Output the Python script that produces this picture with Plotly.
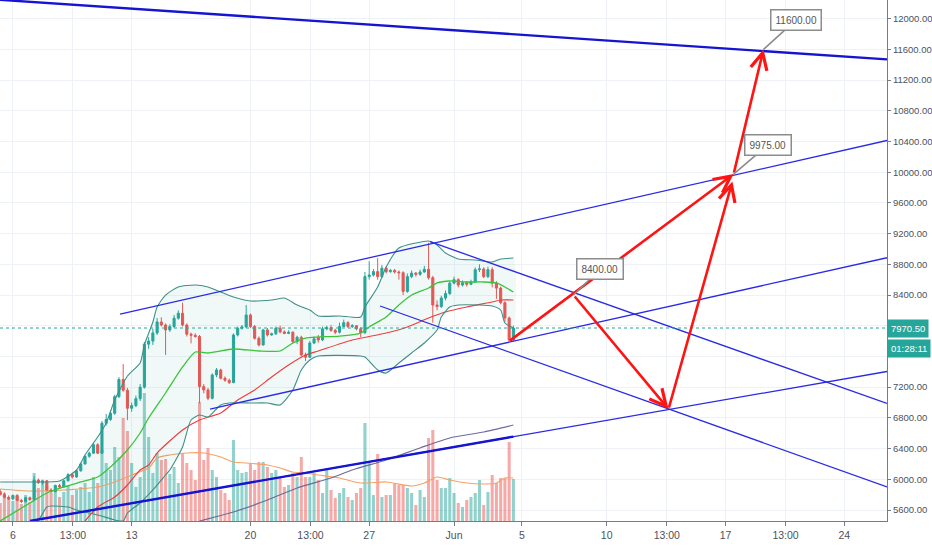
import pandas as pd
import plotly.graph_objects as go

# ---------------- data ----------------
times = pd.date_range("2019-05-05 06:00", periods=122, freq="6h")

opens = [5840, 5800, 5765, 5745, 5790, 5725, 5710, 5760, 5735, 5990,
         5955, 5980, 5860, 5840, 5920, 5900, 5980, 6060, 6030, 6110,
         6200, 6300, 6340, 6450, 6340, 6730, 6780, 6860, 7076, 7300,
         7160, 6925, 6960, 7050, 7200, 7760, 7800, 7906, 8050, 8010,
         7945, 7990, 8098, 8163, 8010, 7890, 7875, 7860, 7207, 7164,
         7055, 7359, 7424, 7316, 7290, 7260, 7880, 7967, 7985, 8140,
         7990, 7837, 7750, 7945, 7880, 7895, 7967, 7920, 7900, 7915,
         7793, 7850, 7620, 7590, 7775, 7850, 7815, 7960, 7975, 7940,
         7915, 7990, 8040, 7990, 8000, 7960, 7910, 8640, 8660, 8705,
         8640, 8750, 8705, 8720, 8700, 8690, 8447, 8640, 8685, 8670,
         8700, 8735, 8625, 8270, 8250, 8360, 8420, 8555, 8600, 8530,
         8560, 8540, 8570, 8730, 8740, 8640, 8730, 8555, 8490, 8300,
         8100, 7815]
highs = [5870, 5830, 5790, 5800, 5805, 5745, 5770, 5775, 6040, 6010,
         5995, 5990, 5885, 5930, 5940, 5990, 6080, 6075, 6125, 6215,
         6310, 6360, 6480, 6470, 6760, 6850, 6900, 7100, 7330, 7500,
         7190, 7000, 7090, 7240, 7790, 7850, 7960, 8100, 8110, 8030,
         8020, 8140, 8200, 8300, 8030, 7910, 7900, 7880, 7240, 7190,
         7380, 7450, 7440, 7340, 7310, 7900, 7990, 8010, 8270, 8160,
         8010, 7860, 7960, 7970, 7910, 7990, 8000, 7940, 7940, 7930,
         7870, 7870, 7650, 7800, 7860, 7880, 7990, 8000, 8010, 7960,
         8040, 8080, 8060, 8020, 8010, 7980, 8700, 8840, 8740, 8880,
         8790, 8770, 8740, 8740, 8720, 8710, 8680, 8720, 8700, 8730,
         8780, 9080, 8650, 8330, 8390, 8460, 8580, 8640, 8620, 8590,
         8580, 8600, 8760, 8800, 8760, 8770, 8760, 8580, 8510, 8320,
         8120, 8000]
lows = [5790, 5750, 5730, 5730, 5715, 5690, 5700, 5720, 5730, 5940,
        5930, 5850, 5820, 5830, 5880, 5890, 5970, 6010, 6020, 6100,
        6190, 6280, 6330, 6330, 6330, 6700, 6760, 6840, 7060, 7140,
        6770, 6880, 6940, 7020, 7180, 7700, 7750, 7880, 7990, 7620,
        7920, 7970, 8080, 7990, 7860, 7770, 7845, 6990, 7120, 7030,
        7040, 7330, 7300, 7270, 7240, 7250, 7860, 7950, 7970, 7970,
        7820, 7730, 7740, 7860, 7870, 7880, 7900, 7890, 7890, 7770,
        7760, 7600, 7540, 7580, 7760, 7780, 7800, 7940, 7920, 7890,
        7900, 7980, 7970, 7970, 7940, 7850, 7890, 8600, 8640, 8600,
        8620, 8680, 8690, 8680, 8600, 8400, 8430, 8620, 8640, 8650,
        8690, 8600, 8040, 8200, 8230, 8330, 8400, 8540, 8500, 8510,
        8510, 8530, 8560, 8700, 8620, 8620, 8500, 8350, 8280, 8050,
        7790, 7800]
closes = [5800, 5765, 5745, 5790, 5725, 5710, 5760, 5735, 5990, 5955,
          5980, 5860, 5840, 5920, 5900, 5980, 6060, 6030, 6110, 6200,
          6300, 6340, 6450, 6340, 6730, 6780, 6860, 7076, 7300, 7160,
          6925, 6960, 7050, 7200, 7760, 7800, 7906, 8050, 8010, 7945,
          7990, 8098, 8163, 8010, 7890, 7875, 7860, 7207, 7164, 7055,
          7359, 7424, 7316, 7290, 7260, 7880, 7967, 7985, 8140, 7990,
          7837, 7750, 7945, 7880, 7895, 7967, 7920, 7900, 7915, 7793,
          7850, 7620, 7590, 7775, 7830, 7815, 7960, 7975, 7940, 7915,
          7990, 8040, 7990, 8000, 7960, 7910, 8640, 8660, 8705, 8640,
          8750, 8705, 8720, 8700, 8690, 8447, 8640, 8685, 8670, 8700,
          8735, 8625, 8270, 8250, 8360, 8420, 8555, 8600, 8530, 8560,
          8540, 8570, 8730, 8740, 8640, 8730, 8555, 8490, 8300, 8100,
          7815, 7970.5]
volumes = [1.8, 2.8, 2.2, 2.0, 2.5, 1.7, 2.6, 1.9, 4.8, 3.3,
           4.0, 3.5, 2.8, 3.1, 2.4, 2.9, 3.6, 2.6, 3.1, 3.4,
           3.8, 2.9, 4.4, 3.8, 7.1, 5.8, 5.1, 7.4, 6.4, 10.3,
           9.0, 5.8, 3.4, 4.4, 12.8, 8.4, 4.8, 6.8, 6.1, 6.2,
           4.7, 5.4, 3.8, 6.8, 5.8, 5.1, 4.1, 11.9, 6.1, 7.3,
           5.1, 4.4, 3.1, 2.8, 2.1, 8.1, 5.1, 4.8, 4.9, 5.8,
           5.1, 5.9, 5.9, 5.4, 4.8, 5.1, 4.4, 3.4, 3.6, 4.8,
           4.4, 6.4, 4.4, 4.4, 4.8, 4.1, 2.8, 5.1, 3.1, 2.3,
           2.8, 3.3, 2.4, 2.1, 2.8, 3.3, 9.8, 5.8, 2.6, 6.7,
           2.4, 2.6, 2.6, 3.8, 3.6, 3.6, 3.3, 2.8, 1.6, 3.1,
           2.4, 8.3, 9.1, 4.1, 3.3, 3.3, 4.3, 2.8, 1.8, 1.4,
           2.1, 2.4, 2.8, 4.1, 1.6, 2.9, 4.6, 3.8, 4.3, 4.3,
           7.9, 4.2]

# indicator lines (candle index -> value)
bb_up_idx = [0, 7, 14, 18, 20, 23, 25, 27, 30, 33, 34, 36, 37, 39, 42, 46, 49, 52, 55, 59,
             64, 67, 70, 73, 75, 80, 85, 86, 89, 91, 94, 98, 101, 103, 105, 108, 112, 116, 118, 121]
bb_up = [5965, 5965, 5978, 6121, 6316, 6551, 6733, 7033, 7345, 7515, 7749, 8049, 8244, 8400, 8505,
         8531, 8505, 8439, 8374, 8322, 8335, 8361, 8270, 8205, 8127, 8127, 8114, 8244, 8505, 8765,
         9013, 9078, 9104, 9052, 8947, 8869, 8856, 8830, 8869, 8882]
bb_lo_idx = [0, 5, 9, 11, 12, 16, 18, 23, 27, 29, 30, 33, 36, 39, 40, 43, 45, 47, 49, 52,
             54, 59, 63, 66, 69, 71, 73, 75, 85, 86, 89, 91, 94, 97, 100, 103, 104, 106, 108, 113,
             116, 118, 119, 121]
bb_lo = [5300, 5380, 5470, 5639, 5652, 5639, 5600, 5535, 5470, 5457, 5561, 5691, 5861, 6056, 6121,
         6421, 6772, 6837, 6811, 6968, 6994, 6994, 6994, 6968, 7163, 7424, 7554, 7606, 7606, 7593,
         7424, 7384, 7515, 7645, 7775, 7944, 8114, 8244, 8270, 8270, 8257, 8205, 8036, 7971]
basis_idx = [0, 7, 11, 15, 19, 23, 26, 30, 33, 35, 39, 43, 46, 49, 55, 61, 66, 69, 72, 75,
             80, 85, 87, 91, 94, 97, 101, 103, 106, 110, 114, 117, 119, 121]
basis = [5457, 5691, 5821, 5900, 5965, 6030, 6160, 6382, 6603, 6798, 7124, 7463, 7658, 7645, 7697,
         7671, 7671, 7775, 7840, 7853, 7866, 7905, 7984, 8114, 8270, 8400, 8492, 8557, 8583, 8570,
         8570, 8557, 8505, 8439]
ma_red_idx = [20, 23, 27, 30, 33, 35, 37, 43, 47, 52, 56, 60, 64, 68, 72, 75, 83, 91, 96, 101,
              105, 110, 116, 118, 121]
ma_red = [5457, 5639, 5769, 5926, 6121, 6186, 6342, 6642, 6772, 6863, 7033, 7163, 7332, 7489, 7619,
          7671, 7814, 7905, 7984, 8101, 8179, 8244, 8309, 8335, 8335]
ma_slow_idx = [47, 55, 63, 70, 78, 83, 91, 99, 106, 114, 121]
ma_slow = [5457, 5574, 5730, 5887, 6017, 6121, 6251, 6408, 6538, 6616, 6707]
vol_ma_idx = [0, 7, 15, 23, 27, 31, 35, 37, 40, 44, 48, 52, 55, 58, 63, 66, 69, 72, 75, 80,
              85, 91, 97, 100, 103, 106, 110, 114, 117, 119, 121]
vol_ma = [3.2, 3.0, 3.1, 3.4, 3.9, 4.6, 5.3, 6.3, 6.6, 6.8, 6.8, 6.4, 5.9, 5.8, 5.6, 5.3, 4.9, 4.8,
          4.6, 4.3, 3.8, 3.9, 3.5, 3.8, 4.4, 4.1, 3.8, 3.7, 3.8, 4.3, 4.3]

# drawn trend lines: (start time, start price, end time, end price)
trend_thick = [
    ("2019-05-05 05:45", 12245, "2019-06-26 12:30", 11470),
    ("2019-05-07 00:10", 5457, "2019-06-04 12:00", 6556),
]
trend_thin = [
    ("2019-05-12 07:35", 8150, "2019-06-26 12:30", 10413),
    ("2019-05-17 14:55", 6915, "2019-06-26 12:30", 8886),
    ("2019-05-30 14:10", 9095, "2019-06-26 12:30", 6987),
    ("2019-05-27 15:25", 8257, "2019-06-26 12:30", 5900),
    ("2019-05-07 00:10", 5457, "2019-06-26 12:30", 7404),
]

# projection arrows: (tail time, tail price, head time, head price)
arrows = [
    ("2019-06-04 05:00", 7792, "2019-06-17 11:30", 9975),
    ("2019-06-08 01:00", 8400, "2019-06-13 15:25", 6915),
    ("2019-06-13 15:25", 6915, "2019-06-17 09:50", 9880),
    ("2019-06-17 11:30", 9975, "2019-06-19 05:50", 11600),
]
callout_times = ["2019-06-08 01:00", "2019-06-17 11:30", "2019-06-19 05:50"]
callout_prices = [8400, 9975, 11600]

last_price = 7970.50
countdown = "01:28:11"

x_tick_vals = ["2019-05-06", "2019-05-09 13:00", "2019-05-13", "2019-05-20", "2019-05-23 13:00",
               "2019-05-27", "2019-06-01", "2019-06-05", "2019-06-10", "2019-06-13 13:00",
               "2019-06-17", "2019-06-20 13:00", "2019-06-24"]
x_tick_text = ["6", "13:00", "13", "20", "13:00", "27", "Jun", "5", "10", "13:00", "17", "13:00", "24"]
y_tick_vals = [5600, 6000, 6400, 6800, 7200, 7600, 8000, 8400, 8800, 9200, 9600,
               10000, 10400, 10800, 11200, 11600, 12000]
# 7600 and 8000 are hidden behind the price / countdown boxes in the reference
y_tick_text = ["5600.00", "6000.00", "6400.00", "6800.00", "7200.00", "", "", "8400.00",
               "8800.00", "9200.00", "9600.00", "10000.00", "10400.00", "10800.00",
               "11200.00", "11600.00", "12000.00"]

# ---------------- figure ----------------
UP, DOWN = "#26a69a", "#ef5350"
FONT = "Liberation Sans, Arial, sans-serif"

def pick(idx):
    return [times[i] for i in idx]

fig = go.Figure()

vol_colors = ["rgba(38,166,154,0.5)" if c >= o else "rgba(239,83,80,0.5)"
              for o, c in zip(opens, closes)]
fig.add_bar(x=times, y=volumes, marker=dict(color=vol_colors, line_width=0),
            width=6 * 3600 * 1000 * 0.72, yaxis="y", hoverinfo="skip")
fig.add_scatter(x=pick(vol_ma_idx), y=vol_ma, mode="lines", yaxis="y",
                line=dict(color="#f7a267", width=1.2, shape="spline", smoothing=0.6))

# Bollinger fill
fig.add_scatter(x=pick(bb_up_idx) + pick(bb_lo_idx)[::-1], y=bb_up + bb_lo[::-1],
                mode="lines", fill="toself", fillcolor="rgba(38,166,154,0.07)",
                line=dict(width=0, shape="spline", smoothing=0.6), yaxis="y2", hoverinfo="skip")
fig.add_scatter(x=pick(ma_slow_idx), y=ma_slow, mode="lines", yaxis="y2",
                line=dict(color="#6b6b9e", width=1.2, shape="spline", smoothing=0.6))
fig.add_scatter(x=pick(ma_red_idx), y=ma_red, mode="lines", yaxis="y2",
                line=dict(color="#f03c3c", width=1.2, shape="spline", smoothing=0.6))
fig.add_scatter(x=pick(bb_up_idx), y=bb_up, mode="lines", yaxis="y2",
                line=dict(color="#3f8f88", width=1.1, shape="spline", smoothing=0.6))
fig.add_scatter(x=pick(bb_lo_idx), y=bb_lo, mode="lines", yaxis="y2",
                line=dict(color="#3f8f88", width=1.1, shape="spline", smoothing=0.6))
fig.add_scatter(x=pick(basis_idx), y=basis, mode="lines", yaxis="y2",
                line=dict(color="#3cc43c", width=1.3, shape="spline", smoothing=0.6))

fig.add_candlestick(x=times, open=opens, high=highs, low=lows, close=closes, yaxis="y2",
                    increasing=dict(line=dict(color=UP, width=1), fillcolor=UP),
                    decreasing=dict(line=dict(color=DOWN, width=1), fillcolor=DOWN),
                    whiskerwidth=0, hoverinfo="skip")

for t0, p0, t1, p1 in trend_thin:
    fig.add_scatter(x=[t0, t1], y=[p0, p1], mode="lines", yaxis="y2",
                    line=dict(color="#2a2ae6", width=1.3), hoverinfo="skip")
for t0, p0, t1, p1 in trend_thick:
    fig.add_scatter(x=[t0, t1], y=[p0, p1], mode="lines", yaxis="y2",
                    line=dict(color="#1414d2", width=2.4), hoverinfo="skip")

annotations = []
for t0, p0, t1, p1 in arrows:
    annotations.append(dict(x=t1, y=p1, ax=t0, ay=p0, xref="x", yref="y2", axref="x", ayref="y2",
                            text="", showarrow=True, arrowhead=5, arrowsize=1.25,
                            arrowwidth=2.6, arrowcolor="#ff1414", standoff=0))
offsets = [(27, -26), (34, -29), (32, -29)]
for t, p, (dx, dy) in zip(callout_times, callout_prices, offsets):
    annotations.append(dict(x=t, y=p, xref="x", yref="y2", text=f"{p:.2f}",
                            showarrow=True, arrowhead=0, arrowwidth=1.6, arrowcolor="#8c8c8c",
                            ax=dx, ay=dy, bgcolor="white", bordercolor="#8c8c8c", borderwidth=1.5,
                            borderpad=4, font=dict(family=FONT, size=10, color="#555555")))
annotations.append(dict(x=1, xref="paper", y=last_price, yref="y2", xanchor="left", yanchor="middle",
                        text=f"{last_price:.2f}", showarrow=False, bgcolor=UP, borderpad=3,
                        font=dict(family=FONT, size=9.5, color="white")))
annotations.append(dict(x=1, xref="paper", y=last_price, yref="y2", xanchor="left", yanchor="middle",
                        yshift=-20, text=countdown, showarrow=False, bgcolor=UP, borderpad=3,
                        font=dict(family=FONT, size=9.5, color="white")))

fig.update_layout(
    width=932, height=550,
    margin=dict(l=0, r=45, t=0, b=29, pad=0),
    paper_bgcolor="white", plot_bgcolor="white",
    showlegend=False,
    font=dict(family=FONT, size=10, color="#4c525e"),
    xaxis=dict(type="date", range=["2019-05-05 05:45", "2019-06-26 12:30"],
               tickvals=x_tick_vals, ticktext=x_tick_text, ticks="outside", ticklen=4,
               tickcolor="#787b86", showline=True, linecolor="#787b86", linewidth=1,
               showgrid=True, gridcolor="#eef1f6", zeroline=False,
               rangeslider=dict(visible=False), tickfont=dict(size=10.5, color="#4c525e")),
    yaxis=dict(range=[0, 52.1], visible=False, fixedrange=True),
    yaxis2=dict(overlaying="y", side="right", anchor="x", range=[5456.7, 12242.8],
                tickvals=y_tick_vals, ticktext=y_tick_text, ticks="outside", ticklen=3,
                tickcolor="#787b86", showline=True, linecolor="#787b86", linewidth=1,
                showgrid=True, gridcolor="#eef1f6", zeroline=False,
                tickfont=dict(size=9.5, color="#4c525e")),
    annotations=annotations,
    shapes=[dict(type="line", xref="paper", x0=0, x1=1, yref="y2", y0=last_price, y1=last_price,
                 line=dict(color=UP, width=1, dash="dot"))],
)

fig.write_html("out.html", config={"displayModeBar": False},
               post_script="document.body.style.margin='0';document.body.style.padding='0';")
